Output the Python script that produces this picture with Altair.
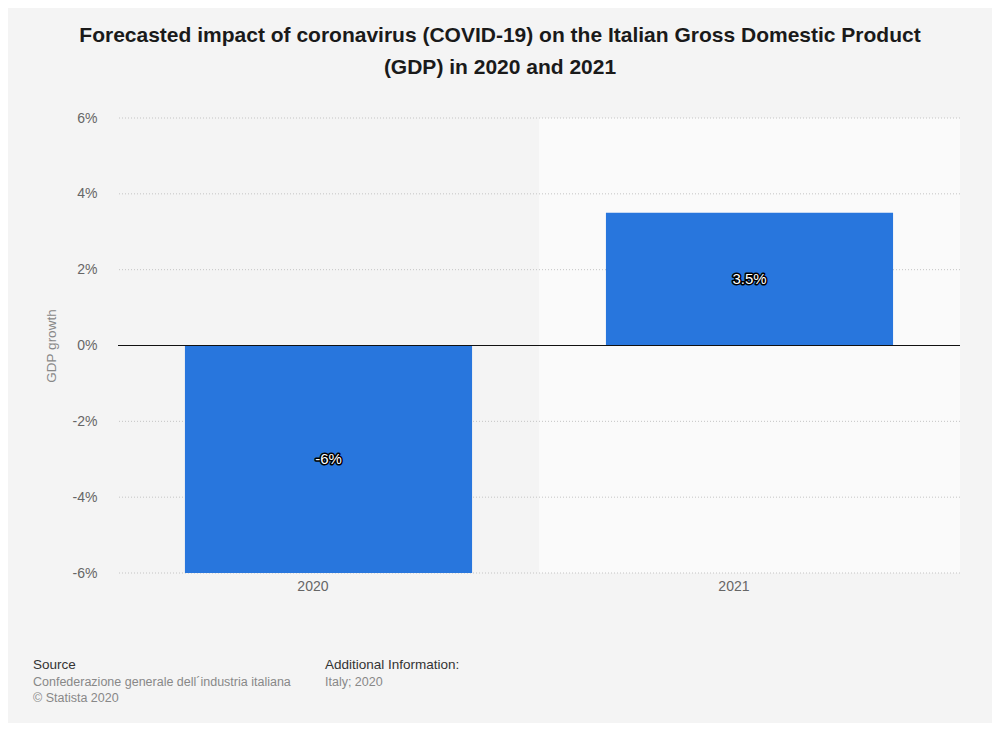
import altair as alt
import pandas as pd

years = ["2020", "2021"]
growth = [-6.0, 3.5]
labels = ["-6%", "3.5%"]
shade = ["#f4f4f4", "#fafafa"]
ticks = [-6, -4, -2, 2, 4, 6]

df = pd.DataFrame({"year": years, "growth": growth, "label": labels,
                   "half": [g / 2 for g in growth], "shade": shade,
                   "lo": [-6, -6], "hi": [6, 6]})

FONT = "Liberation Sans"

xscale = alt.Scale(paddingInner=0.318, paddingOuter=0.159)
yscale = alt.Scale(domain=[-6, 6], nice=False, zero=False)

base = alt.Chart(df)

bands = base.mark_bar(width=alt.RelativeBandSize(1.466)).encode(
    x=alt.X("year:N", scale=xscale, sort=years),
    y=alt.Y("lo:Q", scale=yscale),
    y2="hi:Q",
    color=alt.Color("shade:N", scale=None),
)

grid = alt.Chart(pd.DataFrame({"t": ticks})).mark_rule(
    color="#c4c4c4", strokeWidth=1, strokeDash=[1, 2]
).encode(y=alt.Y("t:Q", scale=yscale))

bars = base.mark_bar(color="#2876dd").encode(
    x=alt.X("year:N", scale=xscale, sort=years,
            axis=alt.Axis(title=None, labelAngle=0, domain=False, ticks=False,
                          labelFont=FONT, labelFontSize=14, labelColor="#666666",
                          labelPadding=13)),
    y=alt.Y("growth:Q", scale=yscale,
            axis=alt.Axis(title="GDP growth", values=[-6, -4, -2, 0, 2, 4, 6],
                          labelExpr="datum.value + '%'",
                          domain=False, ticks=False, labelPadding=21,
                          labelFont=FONT, labelFontSize=14, labelColor="#666666",
                          titleFont=FONT, titleFontSize=13.5, titleFontWeight="normal",
                          titleColor="#888888", titlePadding=14,
                          grid=False)),
)

zero = alt.Chart(pd.DataFrame({"z": [0]})).mark_rule(color="#111111", strokeWidth=1.2).encode(
    y=alt.Y("z:Q", scale=yscale)
)

txt_outline = base.mark_text(font=FONT, fontSize=15, stroke="#000000", strokeWidth=3,
                             fill="#000000", strokeJoin="round").encode(
    x=alt.X("year:N", scale=xscale, sort=years),
    y=alt.Y("half:Q", scale=yscale),
    text="label:N",
)
txt = base.mark_text(font=FONT, fontSize=15, fill="#ffffff").encode(
    x=alt.X("year:N", scale=xscale, sort=years),
    y=alt.Y("half:Q", scale=yscale),
    text="label:N",
)

footer_items = [
    ("Source", -85, 547, "#333333", 13.5),
    ("Confederazione generale dell\u00b4industria italiana", -85, 564, "#888888", 12.5),
    ("\u00a9 Statista 2020", -85, 580, "#888888", 12.5),
    ("Additional Information:", 207, 547, "#333333", 13.5),
    ("Italy; 2020", 207, 564, "#888888", 12.5),
]
footers = []
for t, fx, fy, col, fs in footer_items:
    footers.append(
        alt.Chart(pd.DataFrame({"t": [t]})).mark_text(
            font=FONT, fontSize=fs, color=col, align="left", baseline="middle"
        ).encode(x=alt.value(fx), y=alt.value(fy), text="t:N")
    )

chart = alt.layer(bands, grid, bars, zero, txt_outline, txt, *footers).properties(
    width=842,
    height=455,
    background="#f4f4f4",
    padding={"left": 110, "top": 110, "right": 32, "bottom": 150},
    autosize=alt.AutoSizeParams(type="none"),
    title=alt.TitleParams(
        ["Forecasted impact of coronavirus (COVID-19) on the Italian Gross Domestic Product",
         "(GDP) in 2020 and 2021"],
        font=FONT, fontSize=21, fontWeight="bold", color="#1a1a1a",
        anchor="middle", dx=-39, lineHeight=32, offset=33,
    ),
).configure_view(stroke=None)

chart.save("out.html", embed_options={"renderer": "svg", "actions": False})
